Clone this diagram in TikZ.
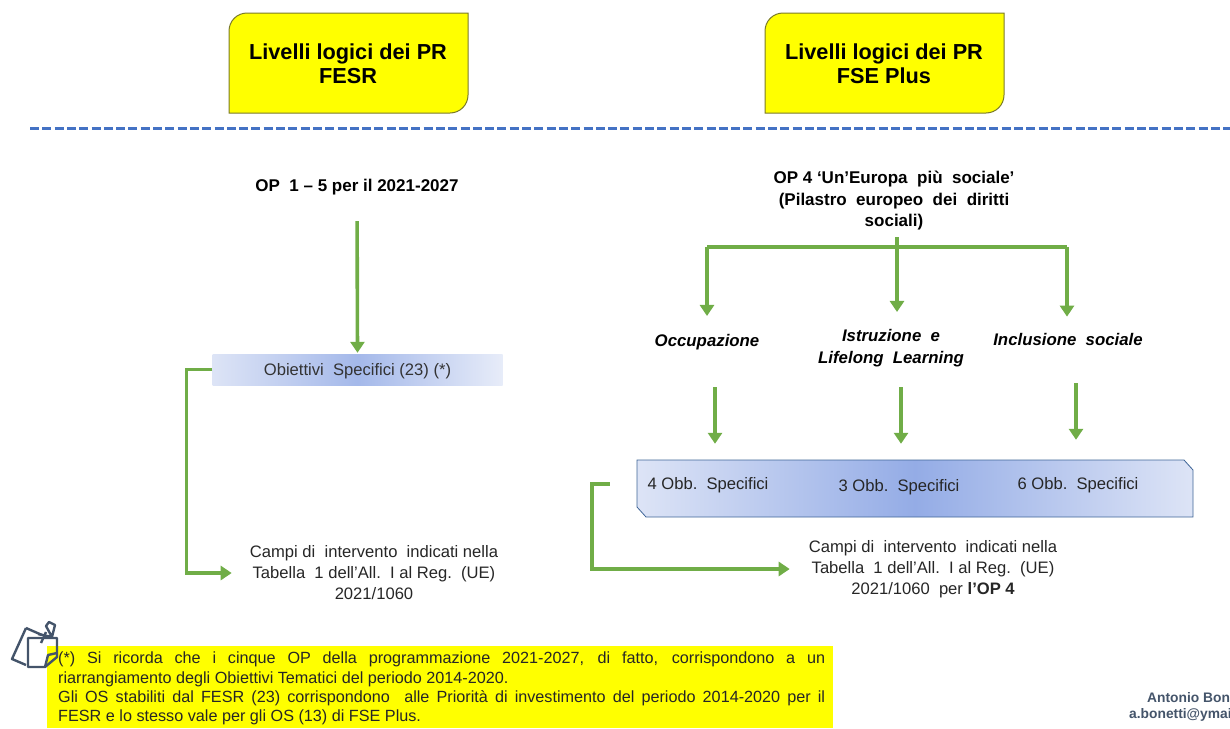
\documentclass[tikz,border=0pt]{standalone}
\usepackage{fontspec}
\setmainfont{Liberation Sans}
\usetikzlibrary{arrows.meta}
\definecolor{flowgreen}{HTML}{70AD47}
\definecolor{dashblue}{HTML}{4472C4}
\definecolor{slategrey}{HTML}{44546A}
\definecolor{bandlight}{HTML}{DDE4F6}
\definecolor{bandmid}{HTML}{94ACE6}
\definecolor{boxedge}{HTML}{7A7A2A}
\definecolor{bandedge}{HTML}{3F6597}
\definecolor{notayellow}{HTML}{FFFF00}
\tikzset{
  titlebox/.style={draw=boxedge,fill=notayellow,line width=1pt},
  titletext/.style={font=\fontsize{21.7}{24}\selectfont\bfseries,align=center,inner sep=0pt},
  bodytext/.style={font=\fontsize{16.6}{21}\selectfont,align=center,inner sep=0pt,text=black!85},
  headtext/.style={font=\fontsize{17}{21.5}\selectfont\bfseries,align=center,inner sep=0pt},
  pillar/.style={font=\fontsize{16.8}{22}\selectfont\bfseries\itshape,align=center,inner sep=0pt},
  flow/.style={draw=flowgreen,line width=3.6pt,-{Triangle[width=14pt,length=11pt]}},
  flowline/.style={draw=flowgreen,line width=3.6pt},
  pinline/.style={draw=slategrey,line width=2.4pt,line join=round},
}
\newcommand{\titleframe}[1]{%
  \draw[titlebox] (#1,113) [rounded corners=18pt] -- (#1,13) [sharp corners] -- (#1+239,13)
    [rounded corners=18pt] -- (#1+239,113) [sharp corners] -- cycle;}
\begin{document}
\begin{tikzpicture}[x=1pt,y=-1pt,every node/.style={text=black}]
  \useasboundingbox (0,0) rectangle (1230,728);
  \clip (0,0) rectangle (1230,728);

  \titleframe{229}
  \titleframe{765}
  \node[titletext] (titlefesr) at (348,64) {Livelli logici dei PR\\FESR};
  \node[titletext] (titlefse) at (884,64) {Livelli logici dei PR\\FSE Plus};

  \coordinate (dashstart) at (30,128);
  \coordinate (dashend) at (1230,128);
  \draw[dashblue,line width=3pt,dash pattern=on 9pt off 3.3pt] (dashstart) -- (dashend);

  \node[headtext] (opfesr) at (357,187) {OP\ \ 1 – 5 per il 2021-2027};
  \node[headtext] (opfse) at (894,201) {OP 4 ‘Un’Europa\ \ più\ \ sociale’\\(Pilastro\ \ europeo\ \ dei\ \ diritti\\sociali)};

  \node[left color=bandlight,right color=bandlight!70!white,middle color=bandmid!85!white,
    minimum width=290pt,minimum height=31pt,inner sep=0pt] (obiettivi) at (357.5,369.5) {};
  \node[font=\fontsize{16.6}{18}\selectfont,text=black!80,inner sep=0pt] (obiettivitext) at (357.5,371) {Obiettivi\ \ Specifici (23) (*)};
  \node[bodytext] (campifesr) at (374,573) {Campi di\ \ intervento\ \ indicati nella\\Tabella\ \ 1 dell’All.\ \ I al Reg.\ \ (UE)\\2021/1060};

  \node[pillar] (occupazione) at (707,342) {Occupazione};
  \node[pillar] (istruzione) at (891,348) {Istruzione\ \ e\\Lifelong\ \ Learning};
  \node[pillar] (inclusione) at (1068,339) {Inclusione\ \ sociale};

  \draw[draw=bandedge,line width=0.8pt,left color=bandlight,right color=bandlight,middle color=bandmid]
    (637,460) -- (1184,460) -- (1193,470) -- (1193,517) -- (646,517) -- (637,507) -- cycle;
  \node[minimum width=556pt,minimum height=57pt,inner sep=0pt] (band) at (915,488.5) {};
  \node[bodytext] (obbquattro) at (708,485) {4 Obb.\ \ Specifici};
  \node[bodytext] (obbtre) at (899,487) {3 Obb.\ \ Specifici};
  \node[bodytext] (obbsei) at (1078,485) {6 Obb.\ \ Specifici};
  \node[bodytext] (campifse) at (933,569) {Campi di\ \ intervento\ \ indicati nella\\Tabella\ \ 1 dell’All.\ \ I al Reg.\ \ (UE)\\2021/1060\ \ per {\bfseries l’OP 4}};

  \draw[flow,shorten <=26pt,shorten >=1pt] (opfesr.south) -- (obiettivi.north);
  \draw[flow,shorten >=18pt] (obiettivi.west) -- ++(-26,0) |- (campifesr.west);

  \coordinate (hubtop) at (897,237);
  \coordinate (hubleft) at (707,247);
  \coordinate (hubright) at (1067,247);
  \draw[flowline] (hubleft) -- (hubright);
  \draw[flow,shorten >=18pt] (hubleft) -- (occupazione.north);
  \draw[flow,shorten >=17pt] (hubtop) -- (hubtop |- istruzione.north);
  \draw[flow,shorten >=16pt] (hubright) -- (hubright |- inclusione.north);

  \coordinate (occdown) at (715,387);
  \coordinate (istrdown) at (901,387);
  \coordinate (incldown) at (1076,383);
  \draw[flow,shorten >=16pt] (occdown) -- (occdown |- band.north);
  \draw[flow,shorten >=16pt] (istrdown) -- (istrdown |- band.north);
  \draw[flow,shorten >=20pt] (incldown) -- (incldown |- band.north);
  \draw[flow,shorten <=27pt,shorten >=19pt] ([yshift=4.5pt]band.west) -- ++(-45,0) |- (campifse.west);

  \node[fill=notayellow,anchor=north west,text width=786pt,inner xsep=0pt,inner ysep=0pt,
    minimum height=82pt,outer sep=0pt] (notabox) at (47,646) {};
  \node[anchor=north west,text width=767pt,inner sep=0pt,align=justify,
    font=\fontsize{16.2}{19.2}\selectfont,text=black!85] (nota) at (58,652)
    {(*) Si ricorda che i cinque OP della programmazione 2021-2027, di fatto, corrispondono a un\linebreak
     riarrangiamento degli Obiettivi Tematici del periodo 2014-2020.\newline
     Gli OS stabiliti dal FESR (23) corrispondono\ \ alle Priorità di investimento del periodo 2014-2020 per il\linebreak
     FESR e lo stesso vale per gli OS (13) di FSE Plus.};

  \draw[pinline] (26,628) -- (12,659) -- (26,665);
  \draw[pinline] (26,628) -- (42,635);
  \draw[pinline] (28,638) -- (28,667) -- (45,667) -- (57,657) -- (57,638) -- cycle;
  \draw[pinline] (57,653) -- (48,655) -- (45,667);
  \draw[pinline] (41,643) -- (46,632);
  \draw[pinline] (38,634) -- (52,637) -- (46,626) -- (49,622) -- (55,625) -- (52,637);

  \node[anchor=west,inner sep=0pt,font=\fontsize{13.8}{15}\selectfont\bfseries,text=slategrey] (firma) at (1147,698) {Antonio Bon};
  \node[anchor=west,inner sep=0pt,font=\fontsize{13.8}{15}\selectfont\bfseries,text=slategrey] (posta) at (1129,715) {a.bonetti@ymai};
\end{tikzpicture}
\end{document}
